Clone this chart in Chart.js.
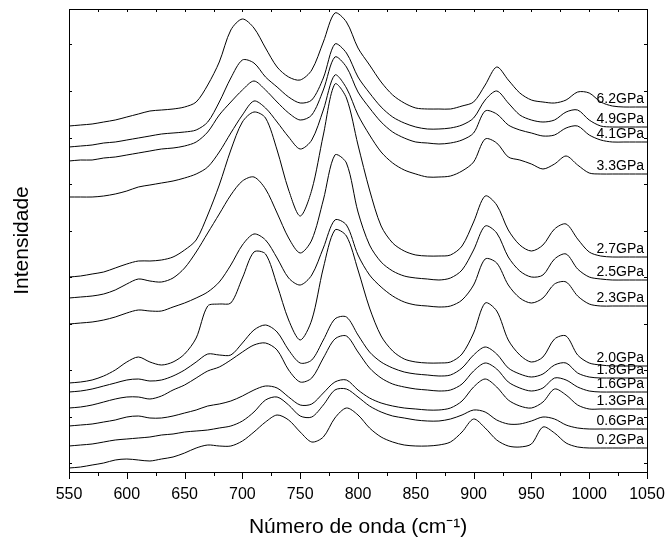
<!DOCTYPE html>
<html>
<head>
<meta charset="utf-8">
<script src="https://cdn.jsdelivr.net/npm/chart.js@4.4.1/dist/chart.umd.min.js"></script>
<style>
  body { margin: 0; background: #fff; }
  canvas { display: block; }
</style>
</head>
<body>
<canvas id="chart" width="669" height="549"></canvas>
<script>
// wavenumber grid (cm-1)
const wavenumbers = [550,560,570,580,590,600,610,620,630,640,
                     650,660,670,680,690,700,710,720,730,740,
                     750,760,770,780,790,800,810,820,830,840,
                     850,860,870,880,890,900,910,920,930,940,
                     950,960,970,980,990,1000,1010,1020,1030,1040,1050];

// stacked intensities (arbitrary units, offset per pressure)
const s62 = [346,347,348,350,352,355,358,361,362,363, 365,370,387,410,442,453,444,424,405,395, 392,402,430,459,450,424,407,390,377,369, 364,363,363,363,366,370,387,405,392,379, 372,370,369,372,380,379,370,366,365,365, 365];
const s49 = [325,326,327,329,330,332,334,336,338,339, 340,342,350,370,394,412,409,395,385,375, 369,372,394,428,419,395,379,365,355,349, 345,343,343,344,347,354,372,381,369,357, 352,350,352,360,362,352,346,345,345,345, 345];
const s41 = [311,312,312,314,315,317,319,321,323,324, 326,330,340,357,370,382,391,382,370,359, 352,357,382,415,405,380,364,350,340,334, 330,329,328,329,332,339,361,358,347,342, 339,336,337,344,346,337,332,330,330,330, 330];
const s33 = [275,275,275,276,278,281,285,287,289,291, 294,298,305,320,339,357,371,364,350,335, 323,332,362,397,384,357,337,320,309,302, 298,295,295,296,301,310,333,329,315,312, 308,303,308,316,307,299,298,298,298,298, 298];
const s27 = [195,196,198,200,204,208,211,211,212,215, 222,232,257,287,322,350,360,354,322,282, 256,282,337,388,374,327,282,246,229,221, 217,216,216,217,226,250,276,267,242,227, 221,227,243,248,233,220,216,215,215,215, 215];
const s25 = [174,175,176,178,182,188,193,191,190,194, 204,220,239,258,277,291,295,283,259,234, 219,232,272,317,309,260,227,210,201,196, 194,193,192,194,202,222,246,239,215,201, 195,197,213,218,203,195,193,192,192,192, 192];
const s23 = [148,149,150,152,155,159,162,161,161,165, 169,174,180,190,207,227,238,232,214,194, 187,197,224,252,247,217,197,185,176,170, 167,166,165,166,172,187,213,209,187,174, 169,174,188,190,176,168,166,166,166,166, 166];
const s20 = [89,90,92,96,102,110,115,110,107,110, 118,134,166,168,169,194,220,218,187,152, 132,152,204,242,236,202,164,136,121,113, 110,109,109,110,118,139,169,161,132,117, 110,115,133,136,117,109,107,106,106,106, 106];
const s18 = [80,81,83,86,89,92,93,91,92,96, 102,110,118,117,117,129,142,147,140,122, 109,112,132,153,155,137,120,110,104,100, 98,97,96,97,104,117,125,118,104,98, 95,98,107,109,99,95,94,94,94,94, 94];
const s16 = [64,65,67,70,73,75,75,73,76,82, 87,94,101,105,112,120,127,129,122,102, 90,94,114,133,136,120,104,94,88,85, 83,82,81,82,88,101,109,103,90,84, 81,84,94,92,85,81,80,80,80,80, 80];
const s13 = [46,47,48,50,52,55,56,54,54,56, 59,62,66,68,71,76,82,86,84,75, 67,68,79,90,92,82,74,69,66,64, 63,62,62,64,71,85,93,85,72,66, 64,70,83,77,67,63,63,63,63,63, 63];
const s06 = [26,27,28,30,32,33,34,35,37,38, 40,41,42,44,46,51,60,72,75,67, 56,55,67,82,83,75,66,60,56,54, 52,51,51,53,57,62,60,52,48,48, 51,55,53,47,44,43,43,43,43,43, 43];
const s02 = [4,5,7,9,12,13,12,11,13,15, 19,24,27,26,26,31,40,50,57,52, 40,30,35,54,64,57,44,35,30,27, 26,26,27,30,40,53,44,32,26,25, 28,45,39,29,25,24,24,24,24,24, 24];

const pressures = ['6.2GPa','4.9GPa','4.1GPa','3.3GPa','2.7GPa','2.5GPa','2.3GPa','2.0GPa','1.8GPa','1.6GPa','1.3GPa','0.6GPa','0.2GPa'];
const spectra = [s62,s49,s41,s33,s27,s25,s23,s20,s18,s16,s13,s06,s02];

const xTickLabels = [550,600,650,700,750,800,850,900,950,1000,1050];
const yTickValues = [9,55.5,102,148.5,195,241.5,288,334.5,381,427.5];

const tickFont = { family: '"Liberation Sans", Arial, sans-serif', size: 16 };
const titleFont = { family: '"Liberation Sans", Arial, sans-serif', size: 21 };

// box, inward/outward ticks and pressure labels
const frame = {
    id: 'frame',
    afterDatasetsDraw(chart) {
        const ctx = chart.ctx;
        const a = chart.chartArea;
        const x = chart.scales.x, y = chart.scales.y;
        ctx.save();
        ctx.strokeStyle = '#000';
        ctx.lineWidth = 1;
        ctx.strokeRect(Math.round(a.left) + 0.5, Math.round(a.top) + 0.5,
                       Math.round(a.right - a.left), Math.round(a.bottom - a.top));
        ctx.beginPath();
        for (let v = 550; v <= 1050; v += 25) {
            const px = Math.round(x.getPixelForValue(v)) + 0.5;
            const major = v % 50 === 0;
            ctx.moveTo(px, a.bottom);
            ctx.lineTo(px, a.bottom + (major ? 7 : 4));
            ctx.moveTo(px, a.top);
            ctx.lineTo(px, a.top + 3);
        }
        yTickValues.forEach(v => {
            const py = Math.round(y.getPixelForValue(v)) + 0.5;
            ctx.moveTo(a.left, py); ctx.lineTo(a.left + 3, py);
            ctx.moveTo(a.right, py); ctx.lineTo(a.right - 3, py);
        });
        ctx.stroke();

        ctx.fillStyle = '#000';
        ctx.font = '14px "Liberation Sans", Arial, sans-serif';
        ctx.textAlign = 'right';
        ctx.textBaseline = 'middle';
        spectra.forEach((s, i) => {
            const py = y.getPixelForValue(s[s.length - 1]);
            ctx.fillText(pressures[i], a.right - 3, py - 8);
        });
        ctx.restore();
    }
};

new Chart(document.getElementById('chart').getContext('2d'), {
    type: 'line',
    data: {
        datasets: spectra.map((s, i) => ({
            label: pressures[i],
            data: s.map((v, j) => ({ x: wavenumbers[j], y: v })),
            borderColor: '#000',
            borderWidth: 1,
            pointRadius: 0,
            fill: false,
            tension: 0.3
        }))
    },
    options: {
        responsive: false,
        animation: false,
        devicePixelRatio: 1,
        layout: { padding: { top: 9, right: 22, left: 0, bottom: 0 } },
        plugins: {
            legend: { display: false },
            tooltip: { enabled: false }
        },
        scales: {
            x: {
                type: 'linear',
                min: 550,
                max: 1050,
                afterBuildTicks: s => { s.ticks = xTickLabels.map(v => ({ value: v })); },
                afterFit: s => { s.height = 77; s.paddingLeft = 0; s.paddingRight = 0; },
                ticks: { color: '#000', font: tickFont, padding: 13, maxRotation: 0, autoSkip: false,
                         callback: v => String(v) },
                grid: { display: false, drawTicks: false },
                border: { display: false },
                title: { display: true, text: 'Número de onda (cm⁻¹)', color: '#000', font: titleFont, padding: { top: 10, bottom: 9 } }
            },
            y: {
                min: 0,
                max: 463,
                afterFit: s => { s.width = 69; },
                ticks: { display: false },
                grid: { display: false, drawTicks: false },
                border: { display: false },
                title: { display: true, text: 'Intensidade', color: '#000', font: titleFont, padding: { top: 10, bottom: 0 } }
            }
        }
    },
    plugins: [frame]
});
</script>
</body>
</html>
